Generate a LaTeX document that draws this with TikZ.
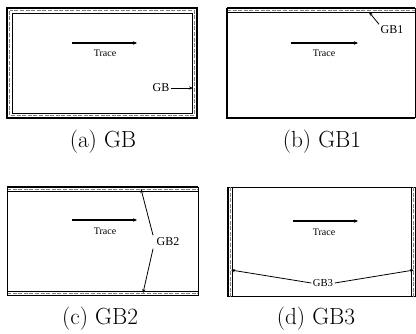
\documentclass[tikz,border=0pt]{standalone}
\usepackage{fontspec}
\newfontfamily\labelfont{Liberation Serif}
\usetikzlibrary{arrows.meta}
\begin{document}
\begin{tikzpicture}[x=0.75pt,y=-0.75pt,
  frame/.style={line width=1pt},
  thinframe/.style={line width=0.6pt},
  bandline/.style={line width=0.45pt},
  bandfill/.style={line width=0.7pt, gray, dash pattern=on 3pt off 1.2pt},
  tracearrow/.style={line width=1.3pt, -{Stealth[length=3pt,width=2.6pt]}},
  leader/.style={line width=0.6pt, -{Stealth[length=3pt,width=2.4pt]}},
  tracelabel/.style={font=\labelfont\fontsize{7.5}{9}\selectfont, inner sep=0pt},
  gblabel/.style={font=\labelfont\fontsize{9}{11}\selectfont, inner sep=1pt},
  caption/.style={font=\fontsize{17.5}{21}\selectfont, inner sep=0pt}
]
\useasboundingbox (0,0) rectangle (416,333);

% ---------- (a) guard band all round ----------
\draw[frame] (7,8) rectangle (197,118);
\draw[bandfill] (9.5,10.5) rectangle (194.5,115.5);
\draw[bandline] (12,13) rectangle (192.5,113);
\coordinate (ta1) at (72,43);
\coordinate (ta2) at (137,43);
\draw[tracearrow] (ta1) -- (ta2);
\node[tracelabel] (tra) at (105,53) {Trace};
\node[gblabel] (gba) at (161,88) {GB};
\coordinate (gbaend) at (193,88);
\draw[leader] (gba.east) -- (gbaend);
\node[caption] (capa) at (103,142) {(a) GB};

% ---------- (b) guard band on top ----------
\draw[frame] (227,8) -- (415,8);
\draw[bandfill] (227,10.3) -- (415,10.3);
\draw[bandline] (227,12.5) -- (415,12.5);
\draw[frame] (227,8) -- (227,118) -- (415,118);
\draw[thinframe] (415,8) -- (415,118);
\coordinate (tb1) at (291,43);
\coordinate (tb2) at (358,43);
\draw[tracearrow] (tb1) -- (tb2);
\node[tracelabel] (trb) at (324,53) {Trace};
\node[gblabel] (gbb) at (392,30) {GB1};
\coordinate (gbbend) at (369,12);
\draw[leader] (gbb.north west) -- (gbbend);
\node[caption] (capb) at (322,142) {(b) GB1};

% ---------- (c) guard bands top and bottom ----------
\draw[frame] (7,187) -- (198,187);
\draw[bandfill] (7,189) -- (198,189);
\draw[bandline] (7,191) -- (198,191);
\draw[bandline] (7,291.5) -- (198,291.5);
\draw[bandfill] (7,293.5) -- (198,293.5);
\draw[frame] (7,295.5) -- (198,295.5);
\draw[thinframe] (7,187) -- (7,295.5);
\draw[thinframe] (198,187) -- (198,295.5);
\coordinate (tc1) at (72,220);
\coordinate (tc2) at (137,220);
\draw[tracearrow] (tc1) -- (tc2);
\node[tracelabel] (trc) at (105,231) {Trace};
\node[gblabel] (gbc) at (168,242) {GB2};
\coordinate (gbctop) at (141,189);
\coordinate (gbcbot) at (143,293);
\draw[leader] (gbc.north west) ++(-2,-1) -- (gbctop);
\draw[leader] (gbc.south west) ++(-2,1) -- (gbcbot);
\node[caption] (capc) at (100,319) {(c) GB2};

% ---------- (d) guard bands left and right ----------
\draw[thinframe] (228,187) -- (416,187);
\draw[frame] (228,296.5) -- (416,296.5);
\draw[frame] (228,187) -- (228,296.5);
\draw[bandfill] (230.3,187) -- (230.3,296.5);
\draw[bandline] (232.5,187) -- (232.5,296.5);
\draw[frame] (415.5,187) -- (415.5,296.5);
\draw[bandfill] (413.3,187) -- (413.3,296.5);
\draw[bandline] (411.2,187) -- (411.2,296.5);
\coordinate (td1) at (293,221);
\coordinate (td2) at (358,221);
\draw[tracearrow] (td1) -- (td2);
\node[tracelabel] (trd) at (324,232) {Trace};
\node[gblabel, font=\labelfont\fontsize{8}{10}\selectfont] (gbd) at (323,283) {GB3};
\coordinate (gbdleft) at (231,270);
\coordinate (gbdright) at (414,270);
\draw[leader] (gbd.west) -- (gbdleft);
\draw[leader] (gbd.east) -- (gbdright);
\node[caption] (capd) at (316,319) {(d) GB3};
\end{tikzpicture}
\end{document}
